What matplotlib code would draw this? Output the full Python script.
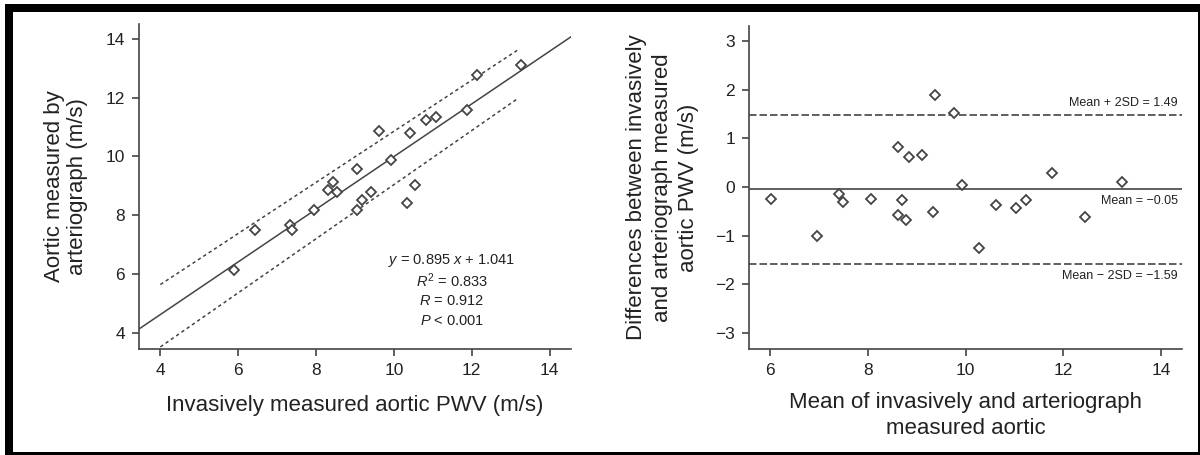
import matplotlib
matplotlib.use("Agg")
import matplotlib.pyplot as plt
from matplotlib.patches import Rectangle
import numpy as np

plt.rcParams['font.family'] = ['Liberation Sans', 'DejaVu Sans']
plt.rcParams['mathtext.fontset'] = 'custom'
plt.rcParams['mathtext.rm'] = 'Liberation Sans'
plt.rcParams['mathtext.it'] = 'Liberation Sans:italic'

# Datos del panel izquierdo (correlacion)
invasivo = [5.90, 6.44, 7.33, 7.37, 7.94, 8.32, 8.43, 8.55, 9.06, 9.04, 9.17,
            9.42, 9.62, 9.93, 10.33, 10.42, 10.54, 10.82, 11.09, 11.88, 12.13, 13.26]
arteriografo = [6.15, 7.48, 7.67, 7.49, 8.17, 8.87, 9.12, 8.79, 9.58, 8.17, 8.51,
                8.78, 10.87, 9.89, 8.41, 10.80, 9.01, 11.25, 11.34, 11.59, 12.75, 13.12]
pendiente = 0.895
intercepto = 1.041
banda_x = [4.0, 13.2]
banda_sup = [5.64, 13.63]
banda_inf = [3.52, 11.98]
texto_reg = ["$y$ = 0.895 $x$ + 1.041", "$R^2$ = 0.833", "$R$ = 0.912", "$P$ < 0.001"]

# Datos del panel derecho (Bland-Altman)
media = [6.02, 6.96, 7.41, 7.49, 8.07, 8.62, 8.69, 8.62, 8.79, 8.85, 9.10,
         9.34, 9.38, 9.77, 9.93, 10.27, 10.63, 11.04, 11.23, 11.76, 12.45, 13.21]
diferencia = [-0.25, -1.00, -0.14, -0.30, -0.25, 0.83, -0.26, -0.57, -0.67, 0.61, 0.65,
              -0.52, 1.90, 1.52, 0.04, -1.26, -0.38, -0.44, -0.26, 0.29, -0.61, 0.11]
media_dif = -0.05
lim_sup = 1.49
lim_inf = -1.59

gris = '#444444'
texto = '#222222'

fig = plt.figure(figsize=(12, 4.55), dpi=100)
ax1 = fig.add_axes([0.1158, 0.2330, 0.36, 0.7143])
ax2 = fig.add_axes([0.6242, 0.2330, 0.3608, 0.7099])

for ax in (ax1, ax2):
    for s in ['top', 'right']:
        ax.spines[s].set_visible(False)
    for s in ['left', 'bottom']:
        ax.spines[s].set_color(gris)
        ax.spines[s].set_linewidth(1.2)
    ax.tick_params(direction='out', length=5, width=1.2, color=gris,
                   labelsize=12.5, labelcolor=texto, pad=5)

# Panel izquierdo
ax1.set_xlim(3.45, 14.55)
ax1.set_ylim(3.45, 14.5)
xs = np.array(ax1.get_xlim())
ax1.plot(xs, pendiente * xs + intercepto, color=gris, lw=1.1)
ax1.plot(banda_x, banda_sup, color=gris, lw=1.1, ls=(0, (2.2, 2.0)))
ax1.plot(banda_x, banda_inf, color=gris, lw=1.1, ls=(0, (2.2, 2.0)))
ax1.plot(invasivo, arteriografo, ls='none', marker='D', ms=5, mfc='white',
         mec=gris, mew=1.3)
ax1.set_xticks([4, 6, 8, 10, 12, 14])
ax1.set_yticks([4, 6, 8, 10, 12, 14])
ax1.set_xlabel('Invasively measured aortic PWV (m/s)', fontsize=16, color=texto, labelpad=12)
ax1.set_ylabel('Aortic measured by\narteriograph (m/s)', fontsize=16, color=texto,
               labelpad=13, linespacing=1.1)
for i, t in enumerate(texto_reg):
    ax1.text(0.7245, 0.271 - i * 0.0615, t, transform=ax1.transAxes, ha='center',
             va='center', fontsize=10.5, color=texto)

# Panel derecho
ax2.set_xlim(5.57, 14.43)
ax2.set_ylim(-3.33, 3.31)
ax2.axhline(media_dif, color=gris, lw=1.2)
ax2.axhline(lim_sup, color=gris, lw=1.2, ls=(0, (4.5, 1.8)))
ax2.axhline(lim_inf, color=gris, lw=1.2, ls=(0, (4.5, 1.8)))
ax2.plot(media, diferencia, ls='none', marker='D', ms=5, mfc='white',
         mec=gris, mew=1.3)
ax2.set_xticks([6, 8, 10, 12, 14])
ax2.set_yticks([-3, -2, -1, 0, 1, 2, 3])
ax2.set_yticklabels(['\u22123', '\u22122', '\u22121', '0', '1', '2', '3'])
ax2.set_xlabel('Mean of invasively and arteriograph\nmeasured aortic', fontsize=16,
               color=texto, labelpad=10, linespacing=1.3)
ax2.set_ylabel('Differences between invasively\nand arteriograph measured\naortic PWV (m/s)',
               fontsize=16, color=texto, labelpad=12, linespacing=1.3)
ax2.text(0.99, lim_sup + 0.12, 'Mean + 2SD = %.2f' % lim_sup, transform=ax2.get_yaxis_transform(),
         ha='right', va='bottom', fontsize=9, color=texto)
ax2.text(0.99, media_dif - 0.12, 'Mean = \u2212%.2f' % abs(media_dif), transform=ax2.get_yaxis_transform(),
         ha='right', va='top', fontsize=9, color=texto)
ax2.text(0.99, lim_inf - 0.12, 'Mean \u2212 2SD = \u2212%.2f' % abs(lim_inf), transform=ax2.get_yaxis_transform(),
         ha='right', va='top', fontsize=9, color=texto)

# Marco negro
W, H = 1200.0, 455.0
for (x0, y0, w, h) in [(5, 4, 1195, 8), (5, 4, 8, 451), (1198, 4, 2, 451), (5, 452, 1195, 3)]:
    fig.add_artist(Rectangle((x0 / W, 1 - (y0 + h) / H), w / W, h / H,
                             transform=fig.transFigure, color='black', lw=0))

fig.savefig('out.png', dpi=100)
